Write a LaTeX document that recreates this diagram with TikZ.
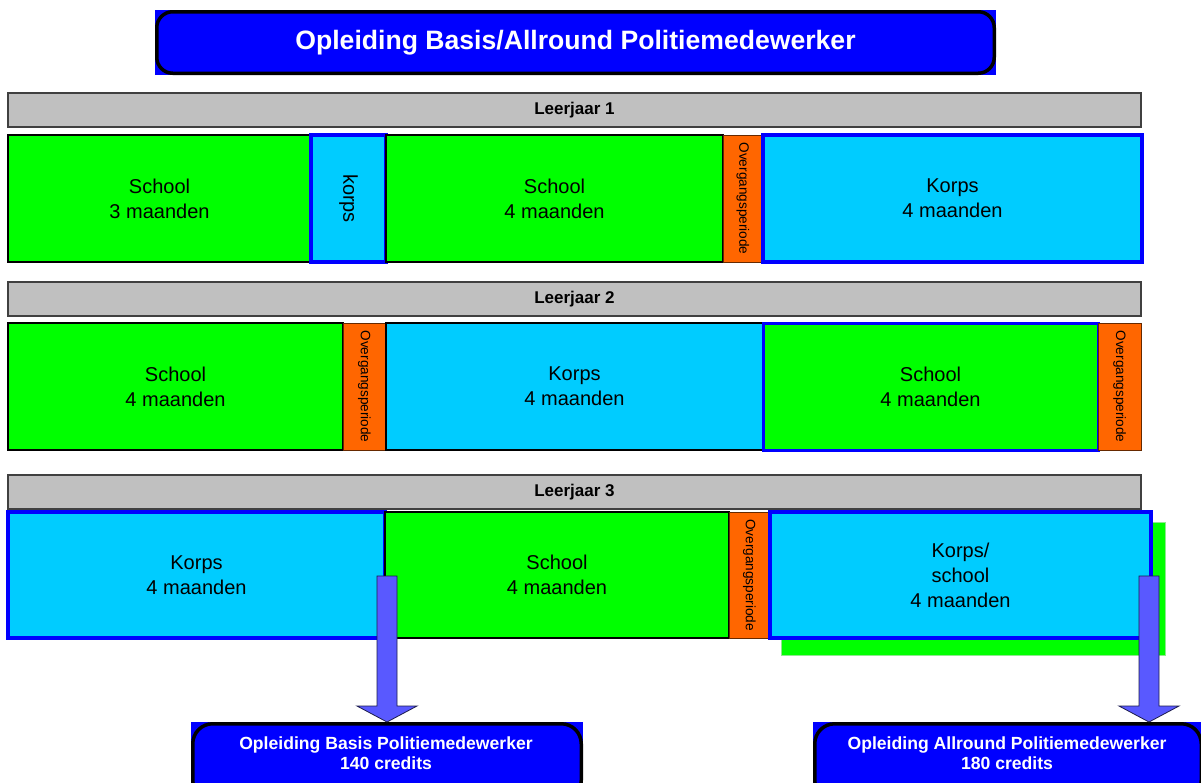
\documentclass[tikz,border=0pt]{standalone}
\usepackage{fontspec}
\setmainfont{Liberation Sans}
\usetikzlibrary{calc}
\definecolor{cgreen}{HTML}{00FF00}
\definecolor{ccyan}{HTML}{00CCFF}
\definecolor{corange}{HTML}{FF6600}
\definecolor{cgray}{HTML}{C0C0C0}
\definecolor{cblue}{HTML}{0000FF}
\definecolor{carrow}{HTML}{5959FF}
\definecolor{cshline}{HTML}{8FE88F}
\tikzset{
  cell/.style={anchor=north west, inner sep=0pt, outer sep=0pt, align=center,
    font=\fontsize{20}{25}\selectfont},
  school/.style={cell, fill=cgreen, draw=black, line width=2.2pt},
  schoolblue/.style={cell, fill=cgreen, draw=cblue, line width=3pt},
  korpsblue/.style={cell, fill=ccyan, draw=cblue, line width=3.2pt},
  korpsblack/.style={cell, fill=ccyan, draw=black, line width=2.2pt},
  overg/.style={cell, fill=corange, draw=black!60!corange, line width=1pt},
  vlabel/.style={rotate=-90, inner sep=0pt},
  ovtext/.style={vlabel, font=\fontsize{13.6}{15}\selectfont},
  yearbar/.style={anchor=north west, inner sep=0pt, outer sep=0pt, fill=cgray, draw=black!75,
    line width=1.2pt, font=\bfseries\fontsize{17}{19}\selectfont,
    minimum width=1133pt, minimum height=34pt},
  bluefill/.style={anchor=north west, inner sep=0pt, outer sep=0pt, fill=cblue},
  roundborder/.style={draw=black, line width=3.5pt},
  whitebold/.style={text=white, align=center, inner sep=0pt, font=\bfseries\fontsize{17.6}{20}\selectfont},
  blockarrow/.style={fill=carrow, draw=black!70!carrow, line width=0.8pt, line join=miter},
}
\begin{document}
\begin{tikzpicture}[x=1pt, y=-1pt]
\useasboundingbox (0,0) rectangle (1201,782);
\clip (0,0) rectangle (1201,782);

% title
\node[bluefill, minimum width=841pt, minimum height=65pt] (title) at (155,10) {};
\draw[roundborder, rounded corners=16pt] ($(title.north west)+(1.75,1.75)$) rectangle ($(title.south east)+(-1.75,-1.75)$);
\node[text=white, font=\bfseries\fontsize{26.6}{30}\selectfont, inner sep=0pt] (titletext) at (title.center) {Opleiding Basis/Allround Politiemedewerker};

% year 1
\node[yearbar] (y1) at (8,93) {Leerjaar 1};
\node[school, minimum width=303pt, minimum height=127pt] (s11) at (8,135) {School\\3 maanden};
\node[korpsblue, minimum width=75pt, minimum height=127pt] (k12) at (311,135) {};
\node[vlabel, font=\fontsize{20}{24}\selectfont] (k12t) at (k12.center) {korps};
\node[school, minimum width=337pt, minimum height=127pt] (s13) at (386,135) {School\\4 maanden};
\node[overg, minimum width=40pt, minimum height=127pt] (o14) at (723,135) {};
\node[ovtext] (o14t) at (o14.center) {Overgangsperiode};
\node[korpsblue, minimum width=379pt, minimum height=127pt] (k15) at (763,135) {Korps\\4 maanden};

% year 2
\node[yearbar] (y2) at (8,282) {Leerjaar 2};
\node[school, minimum width=335pt, minimum height=127pt] (s21) at (8,323) {School\\4 maanden};
\node[overg, minimum width=43pt, minimum height=127pt] (o22) at (343,323) {};
\node[ovtext] (o22t) at (o22.center) {Overgangsperiode};
\node[korpsblack, minimum width=377pt, minimum height=127pt] (k23) at (386,323) {Korps\\4 maanden};
\node[schoolblue, minimum width=335pt, minimum height=127pt] (s24) at (763,323) {School\\4 maanden};
\node[overg, minimum width=43pt, minimum height=127pt] (o25) at (1098,323) {};
\node[ovtext] (o25t) at (o25.center) {Overgangsperiode};

% year 3
\node[yearbar] (y3) at (8,475) {Leerjaar 3};
\node[anchor=north west, inner sep=0pt, outer sep=0pt, fill=cgreen, draw=cshline, line width=0.8pt,
  minimum width=384pt, minimum height=133pt] (shadow) at (781,522) {};
\node[korpsblue, minimum width=377pt, minimum height=126pt] (k31) at (8,512) {Korps\\4 maanden};
\node[school, minimum width=344pt, minimum height=126pt] (s32) at (385,512) {School\\4 maanden};
\node[overg, minimum width=41pt, minimum height=126pt] (o33) at (729,512) {};
\node[ovtext] (o33t) at (o33.center) {Overgangsperiode};
\node[korpsblue, minimum width=381pt, minimum height=126pt] (k34) at (770,512) {Korps/\\school\\4 maanden};

% result boxes
\node[bluefill, minimum width=392pt, minimum height=80pt] (basis) at (191,722) {};
\draw[roundborder, rounded corners=20pt] ($(basis.north west)+(1.75,1.75)$) rectangle ($(basis.south east)+(-1.75,-1.75)$);
\node[whitebold] (basist) at (386,753) {Opleiding Basis Politiemedewerker\\140 credits};

\node[bluefill, minimum width=390pt, minimum height=80pt] (allr) at (813,722) {};
\draw[roundborder, rounded corners=20pt] ($(allr.north west)+(1.75,1.75)$) rectangle ($(allr.south east)+(-1.75,-1.75)$);
\node[whitebold] (allrt) at (1007,753) {Opleiding Allround Politiemedewerker\\180 credits};

% arrows
\coordinate (tipL) at (basis.north);
\coordinate (tipR) at (1149,722);
\draw[blockarrow] (tipL) -- ++(-30,-16) -- ++(20,0) -- ++(0,-130) -- ++(20,0) -- ++(0,130) -- ++(20,0) -- cycle;
\draw[blockarrow] (tipR) -- ++(-30,-16) -- ++(20,0) -- ++(0,-130) -- ++(20,0) -- ++(0,130) -- ++(20,0) -- cycle;
\end{tikzpicture}
\end{document}
